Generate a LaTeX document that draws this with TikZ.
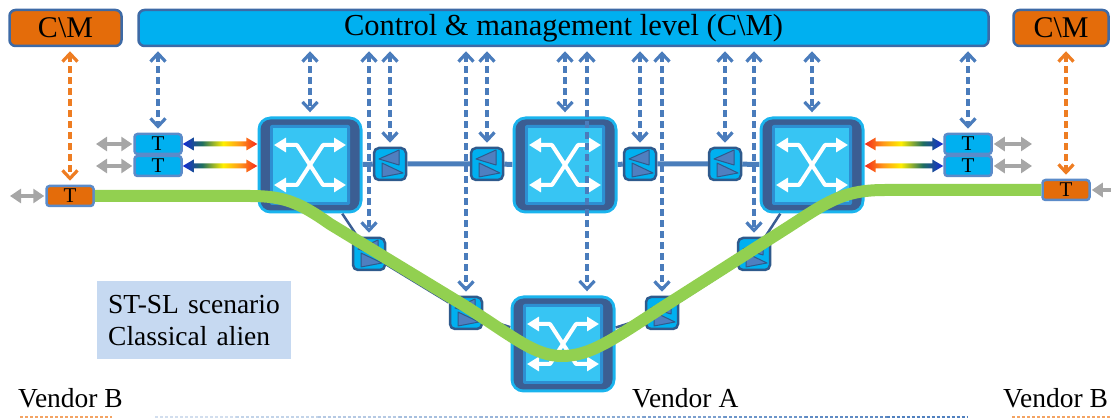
\documentclass[tikz,border=0pt]{standalone}
\usepackage{fontspec}
\setmainfont{Liberation Serif}
\usetikzlibrary{arrows.meta}
\usetikzlibrary{calc}

\definecolor{cmblue}{HTML}{00B0F0}
\definecolor{barline}{HTML}{3D6AA6}
\definecolor{tline}{HTML}{5B8BC9}
\definecolor{vorange}{HTML}{E46C0A}
\definecolor{octrl}{HTML}{EE7D22}
\definecolor{ctrlblue}{HTML}{4A7CBC}
\definecolor{swring}{HTML}{1AB4EE}
\definecolor{swdark}{HTML}{3B5E93}
\definecolor{swedge}{HTML}{2D8FD2}
\definecolor{swinner}{HTML}{37C5F3}
\definecolor{ampline}{HTML}{2F5A8C}
\definecolor{trifill}{HTML}{4F7FC0}
\definecolor{linkblue}{HTML}{4A7EBB}
\definecolor{lgreen}{HTML}{92D050}
\definecolor{greyarr}{HTML}{A6A6A6}
\definecolor{notefill}{HTML}{C6D9F1}
\definecolor{rbblue}{HTML}{1428D8}
\definecolor{rbteal}{HTML}{1F6F5F}
\definecolor{rbyellow}{HTML}{FFEF00}
\definecolor{rborange}{HTML}{FF9A1A}
\definecolor{rbred}{HTML}{F5281A}

\pgfdeclarehorizontalshading{bluered}{100bp}{color(0bp)=(rbblue); color(25bp)=(rbblue); color(38bp)=(rbteal); color(52bp)=(rbyellow); color(63bp)=(rborange); color(75bp)=(rbred); color(100bp)=(rbred)}
\pgfdeclarehorizontalshading{redblue}{100bp}{color(0bp)=(rbred); color(25bp)=(rbred); color(37bp)=(rborange); color(48bp)=(rbyellow); color(62bp)=(rbteal); color(75bp)=(rbblue); color(100bp)=(rbblue)}

\tikzset{
  cmbar/.style={draw=barline, line width=2.5pt, fill=cmblue, rounded corners=6pt, minimum height=36pt, inner sep=0pt, font=\fontsize{30.5}{36}\selectfont},
  cmbox/.style={cmbar, fill=vorange, font=\fontsize{30}{36}\selectfont},
  tbox/.style={draw=tline, line width=2.5pt, fill=cmblue, rounded corners=3pt, minimum width=47pt, minimum height=20pt, inner sep=0pt, font=\fontsize{21}{21}\selectfont},
  obox/.style={tbox, fill=vorange},
  xswitch/.style={fill=swring, rounded corners=13pt, minimum width=105pt, minimum height=97pt, inner sep=0pt},
  amp/.style={draw=ampline, line width=2.5pt, fill=cmblue, rounded corners=5pt, minimum size=32pt, inner sep=0pt},
  amptri/.style={fill=trifill, draw=ampline, line width=1pt, line join=round},
  swarrow/.style={draw=white, line width=4pt, line join=round, {Triangle[length=12pt,width=14pt]}-{Triangle[length=12pt,width=14pt]}},
  link/.style={draw=linkblue, line width=5pt},
  blink/.style={draw=swdark, line width=2.5pt},
  lightpath/.style={draw=lgreen, line width=12pt, line join=round},
  ctrl/.style={draw=ctrlblue, line width=3.2pt, dash pattern=on 7pt off 4pt, {Straight Barb[length=8pt,width=15pt]}-{Straight Barb[length=8pt,width=15pt]}},
  octrlarr/.style={ctrl, draw=octrl},
  greyline/.style={draw=greyarr, line width=4.5pt, {Triangle[length=11pt,width=14pt]}-{Triangle[length=11pt,width=14pt]}},
  note/.style={fill=notefill, text width=172pt, inner xsep=11pt, minimum height=78pt, align=left, font=\fontsize{27.5}{32}\selectfont},
  vendor/.style={anchor=base west, inner sep=0pt, font=\fontsize{27.5}{30}\selectfont},
  dotline/.style={line width=1.5pt, dash pattern=on 3pt off 2pt}
}

% rainbow double arrow: shading, left tip, right tip
\newcommand{\rbarrow}[3]{%
  \shade[shading=#1] (#2) -- ++(11,-6.5) -- ++(0,4) -- ($(#3)+(-11,-2.5)$) -- ++(0,-4) -- (#3) -- ++(-11,6.5) -- ++(0,-4) -- ($(#2)+(11,2.5)$) -- ++(0,4) -- cycle;}

\begin{document}
\begin{tikzpicture}[x=1pt,y=-1pt]
\useasboundingbox (0,0) rectangle (1111,419);

% control level
\node[cmbox, minimum width=112pt] (cml) at (65.5,28) {C\textbackslash M};
\node[cmbar, minimum width=850pt] (cm) at (563.5,28) {Control \& management level (C\textbackslash M)};
\node[cmbox, minimum width=95pt] (cmr) at (1061,28) {C\textbackslash M};

% transponders
\node[tbox] (tl1) at (158,144) {T};
\node[tbox] (tl2) at (158,166) {T};
\node[tbox] (tr1) at (968,144) {T};
\node[tbox] (tr2) at (968,166) {T};
\node[obox] (tol) at (70,196) {T};
\node[obox] (tor) at (1066,190) {T};

% switches
\node[xswitch] (s1) at (310,165) {};
\node[xswitch] (s2) at (565,165) {};
\node[xswitch] (s3) at (812,165) {};
\node[xswitch] (s4) at (563,344) {};

% amplifiers
\node[amp] (a1) at (390,164) {};
\node[amp] (a2) at (487,164) {};
\node[amp] (a3) at (640,164) {};
\node[amp] (a4) at (725,164) {};
\node[amp] (b1) at (369,254) {};
\node[amp] (b2) at (466,313) {};
\node[amp] (b3) at (662,313) {};
\node[amp] (b4) at (754,254) {};

\draw[link] (s1) -- (a1) -- (a2) -- (s2) -- (a3) -- (a4) -- (s3);
\draw[blink] (s1) -- (b1) -- (b2) -- (s4) -- (b3) -- (b4) -- (s3);

\foreach \s in {s1,s2,s3,s4}{
  \fill[swdark, rounded corners=10pt] ([shift={(-49.5,-45.5)}]\s.center) rectangle ([shift={(49.5,45.5)}]\s.center);
  \fill[swedge, rounded corners=2pt] ([shift={(-40,-40)}]\s.center) rectangle ([shift={(40,40)}]\s.center);
  \fill[swinner] ([shift={(-37,-37)}]\s.center) rectangle ([shift={(37,37)}]\s.center);
  \draw[swarrow] ([shift={(-36,-20)}]\s.center) -- ++(23,0) -- ++(26,40) -- ++(23,0);
  \draw[swarrow] ([shift={(36,-20)}]\s.center) -- ++(-23,0) -- ++(-26,40) -- ++(-23,0);
}

\foreach \a in {a1,a2,a3,a4,b1,b2,b3,b4}{
  \filldraw[amptri] ([shift={(-11,-5)}]\a.center) -- ([shift={(9,-14)}]\a.center) -- ([shift={(9,1)}]\a.center) -- cycle;
  \filldraw[amptri] ([shift={(-8,-1)}]\a.center) -- ([shift={(-8,13)}]\a.center) -- ([shift={(13,9)}]\a.center) -- cycle;
}

% rainbow links
\coordinate (rl1) at (s1.west |- tl1.east);
\coordinate (rl2) at (s1.west |- tl2.east);
\coordinate (rr1) at (s3.east |- tr1.west);
\coordinate (rr2) at (s3.east |- tr2.west);
\rbarrow{bluered}{tl1.east}{rl1}
\rbarrow{bluered}{tl2.east}{rl2}
\rbarrow{redblue}{rr1}{tr1.west}
\rbarrow{redblue}{rr2}{tr2.west}

% client sides
\coordinate (gl1) at (96,144);
\coordinate (gl2) at (96,166);
\coordinate (glo) at (10,196);
\coordinate (gr1) at (1032,144);
\coordinate (gr2) at (1032,166);
\coordinate (gro) at (1128,190);
\draw[greyline] (gl1) -- ([xshift=-1pt]tl1.west);
\draw[greyline] (gl2) -- ([xshift=-1pt]tl2.west);
\draw[greyline] (glo) -- ([xshift=-1pt]tol.west);
\draw[greyline] ([xshift=1pt]tr1.east) -- (gr1);
\draw[greyline] ([xshift=1pt]tr2.east) -- (gr2);
\draw[greyline] ([xshift=1pt]tor.east) -- (gro);

% lightpath
\draw[lightpath] (tol.east) -- (250,196) .. controls (285,196) and (300,203) .. (330,224) -- (465,306) .. controls (515,338) and (535,356) .. (562,356) .. controls (590,356) and (612,340) .. (660,309) -- (790,226) .. controls (830,200) and (845,190) .. (885,190) -- (tor.west);

% control arrows
\foreach \nd in {tl1,s1,b1,a1,b2,a2,s2,a3,b3,a4,b4,s3,tr1}
  \draw[ctrl] ([yshift=-4pt]cm.south -| \nd.north) -- ([yshift=4pt]\nd.north);
\coordinate (s4c) at ([xshift=24pt]s4.north);
\draw[ctrl] ([yshift=-4pt]cm.south -| s4c) -- ([yshift=4pt]s4c);
\draw[octrlarr] ([yshift=-4pt]cml.south -| tol.north) -- ([yshift=4pt]tol.north);
\draw[octrlarr] ([yshift=-4pt]cmr.south -| tor.north) -- ([yshift=4pt]tor.north);

\node[note, anchor=north west] (stsl) at (97,281) {ST-SL scenario\\Classical alien};

\node[vendor] (vbl) at (18,407) {Vendor B};
\node[vendor] (vba) at (632,407) {Vendor A};
\node[vendor] (vbr) at (1003,407) {Vendor B};

\draw[dotline, octrl!70] (20,417) -- (112,417);
\foreach \i in {0,...,9}{
  \pgfmathtruncatemacro\pc{25+8*\i}
  \draw[dotline, ctrlblue!\pc] (155+81.3*\i,417) -- ++(81.3,0);
}
\draw[dotline, octrl!70] (1012,417) -- (1111,417);
\end{tikzpicture}
\end{document}
